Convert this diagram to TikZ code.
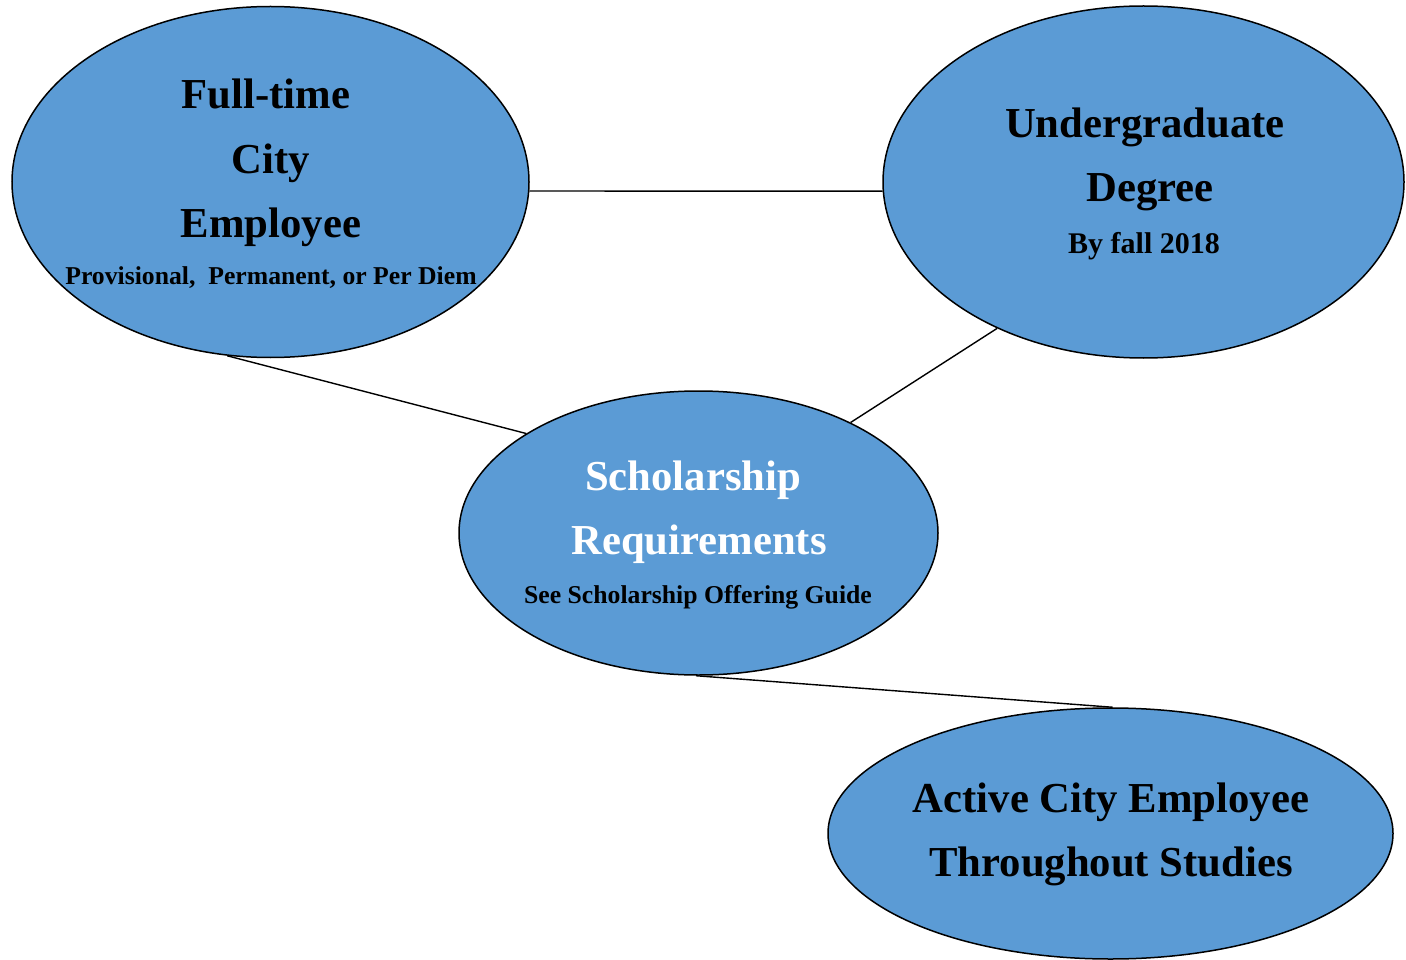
\documentclass[tikz,border=0pt]{standalone}
\usepackage{fontspec}
\setmainfont{Liberation Serif}
\usetikzlibrary{shapes.geometric}
\definecolor{bluefill}{RGB}{91,155,213}
\tikzset{
  blob/.style={ellipse, draw=black, line width=1.5pt, fill=bluefill, inner sep=0pt},
  bigtxt/.style={anchor=base, inner sep=0pt, font=\fontsize{42.7}{50}\selectfont\bfseries},
  smalltxt/.style={anchor=base, inner sep=0pt, font=\fontsize{25.7}{31}\selectfont\bfseries},
  midtxt/.style={anchor=base, inner sep=0pt, font=\fontsize{30}{36}\selectfont\bfseries},
  link/.style={draw=black, line width=1.4pt}
}
\begin{document}
\begin{tikzpicture}[x=1pt,y=-1pt]
\useasboundingbox (0,0) rectangle (1406,960);
% ellipses
\node[blob, minimum width=517pt, minimum height=351pt] (ft) at (270.5,182) {};
\node[blob, minimum width=521pt, minimum height=352pt] (ug) at (1143.5,182) {};
\node[blob, minimum width=479pt, minimum height=284pt] (sch) at (698.5,533) {};
\node[blob, minimum width=565pt, minimum height=251pt] (act) at (1110.5,833.5) {};
% connectors
\draw[link] (ft.-2.6) -- (ug.182.6);
\draw[link] (ft.256.4) -- (sch.150.4);
\draw[link] (sch.36.5) -- (ug.225.2);
\draw[link] (sch.-91) -- (act.89);
% texts
\node[bigtxt] (ft1) at (266,109) {Full-time};
\node[bigtxt] (ft2) at (271,174) {City};
\node[bigtxt] (ft3) at (271,238) {Employee};
\node[smalltxt] (ft4) at (271,284) {Provisional,\ \ Permanent, or Per Diem};
\node[bigtxt] (ug1) at (1145,138) {Undergraduate};
\node[bigtxt] (ug2) at (1150,202) {Degree};
\node[midtxt] (ug3) at (1144,254) {By fall 2018};
\node[bigtxt, text=white] (sch1) at (693,490) {Scholarship};
\node[bigtxt, text=white] (sch2) at (699,554) {Requirements};
\node[smalltxt] (sch3) at (698,603) {See Scholarship Offering Guide};
\node[bigtxt] (act1) at (1111,812) {Active City Employee};
\node[bigtxt] (act2) at (1111,876) {Throughout Studies};
\end{tikzpicture}
\end{document}
